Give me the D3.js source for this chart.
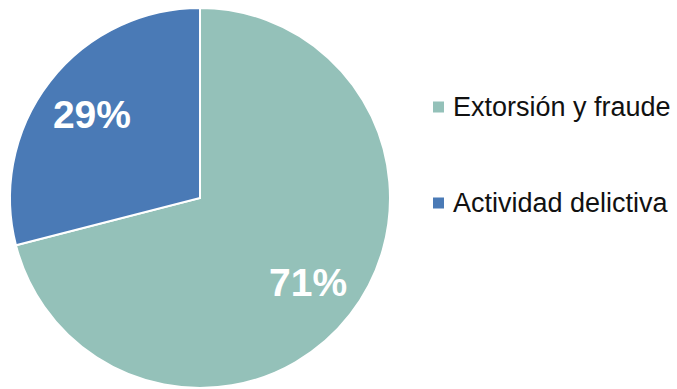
<!DOCTYPE html>
<html>
<head>
<meta charset="utf-8">
<script src="https://cdn.jsdelivr.net/npm/d3@7"></script>
<style>
  body { margin: 0; background: #fff; }
  svg { display: block; }
</style>
</head>
<body>
<script>
// data
const categories = ["Extorsión y fraude", "Actividad delictiva"];
const shares = [71, 29];
const colors = ["#94c1b9", "#4a7ab6"];

const width = 677, height = 389;
const cx = 200, cy = 198, radius = 190;

const svg = d3.select("body").append("svg")
    .attr("width", width)
    .attr("height", height);

const data = categories.map((c, i) => ({ name: c, value: shares[i], color: colors[i] }));

const pie = d3.pie().sort(null).value(d => d.value);
const arc = d3.arc().innerRadius(0).outerRadius(radius);
const labelArc = d3.arc().innerRadius(radius * 0.72).outerRadius(radius * 0.72);

const g = svg.append("g").attr("transform", "translate(" + cx + "," + cy + ")");

const slices = g.selectAll(".slice")
    .data(pie(data))
    .enter().append("g")
    .attr("class", "slice");

slices.append("path")
    .attr("d", arc)
    .attr("fill", d => d.data.color)
    .attr("stroke", "#fff")
    .attr("stroke-width", 2);

slices.append("text")
    .attr("transform", d => "translate(" + labelArc.centroid(d) + ")")
    .attr("text-anchor", "middle")
    .attr("dy", "0.36em")
    .attr("fill", "#fff")
    .style("font-family", "'Liberation Sans', Arial, sans-serif")
    .style("font-weight", "bold")
    .style("font-size", "39px")
    .text(d => d.data.value + "%");

// legend
const legend = svg.append("g").attr("transform", "translate(433,0)");
const legendY = d3.scalePoint().domain(categories).range([106.5, 202.5]);

const items = legend.selectAll(".item")
    .data(data)
    .enter().append("g")
    .attr("class", "item")
    .attr("transform", d => "translate(0," + legendY(d.name) + ")");

items.append("rect")
    .attr("x", 0).attr("y", -5)
    .attr("width", 11).attr("height", 11)
    .attr("fill", d => d.color);

items.append("text")
    .attr("x", 20)
    .attr("y", 0)
    .attr("dy", "0.35em")
    .attr("fill", "#111")
    .style("font-family", "'Liberation Sans', Arial, sans-serif")
    .style("font-size", "27px")
    .text(d => d.name);
</script>
</body>
</html>
